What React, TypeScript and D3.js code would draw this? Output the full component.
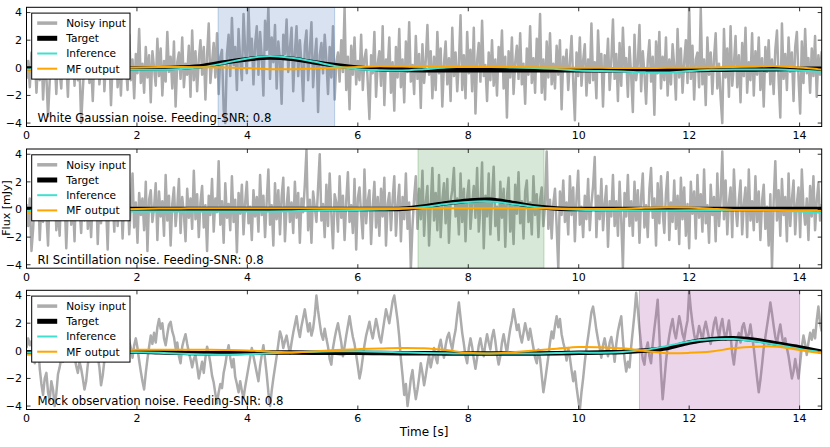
import React from 'react';
import * as d3 from 'd3';

const DT = 0.03;
const SMOOTH_DT = 0.4;
const X_DOMAIN = [0, 14.4];
const Y_DOMAIN = [-4.25, 4.38];
const X_TICKS = [0, 2, 4, 6, 8, 10, 12, 14];
const Y_TICKS = [-4, -2, 0, 2, 4];
const LEGEND_LABELS = ['Noisy input', 'Target', 'Inference', 'MF output'];
const PANEL_TITLES = [
  'White Gaussian noise. Feeding-SNR: 0.8',
  'RI Scintillation noise. Feeding-SNR: 0.8',
  'Mock observation noise. Feeding-SNR: 0.8',
];
const SPAN_1 = [3.47, 5.58];
const SPAN_2 = [7.09, 9.37];
const SPAN_3 = [11.1, 14.0];

const NOISE_WHITE = [
  -0.8, 0.5, -1.4, 1.1, -0.2, 0.9, -1.8, 0.3, -0.9, 1.6, -2.3, 0.2, -0.6, -3.5, -1.0, 1.3, -0.4, 0.7, -1.9, 1.0,
  -0.3, -1.5, 1.8, -0.7, 0.4, -2.1, 1.2, -0.5, 0.8, -1.3, 2.0, -0.9, 0.1, -4.0, -1.6, 0.6, -0.2, 1.5, -1.1, 0.3,
  -2.4, 0.9, -0.6, 1.7, -1.2, 0.2, 2.3, -1.7, 0.5, -0.8, 1.1, -2.7, 0.4, -0.3, 1.9, -1.4, 0.7, -2.0, 1.3, -0.5,
  0.2, -1.6, 2.4, -0.9, 0.6, -2.2, 1.0, -0.4, 2.8, -1.1, 0.3, -1.8, 1.5, -0.7, 0.9, -2.5, 1.2, 0.0, -1.3, 2.1,
  -0.6, 1.4, -2.0, 0.5, -1.0, 2.6, -0.3, 0.8, -1.5, 1.9, -2.8, 0.4, 1.1, -0.8, 2.2, -1.4, 0.3, -0.5, 1.6, -2.1,
  2.7, -0.9, 1.2, -1.7, 0.6, 2.0, -0.5, 1.5, -2.3, 0.9, 3.2, -1.1, 0.4, 1.8, -0.7, 2.5, -1.9, 0.8, 1.3, -3.0,
  -4.0, 1.0, 2.4, -0.6, 3.6, 0.2, 1.5, -1.6, 2.8, 0.5, -0.9, 3.9, 1.2, -0.4, 4.4, 0.8, 2.1, -1.2, 1.7, 3.0,
  -0.5, 2.6, 0.9, -2.0, 3.4, 1.3, 4.4, -0.8, 2.2, 0.4, 3.1, -1.5, 1.9, 0.6, -2.6, 2.4, 1.0, 3.5, -0.3, 1.4,
  2.9, -1.7, 1.1, 3.0, -0.6, 2.0, 0.3, -2.4, 1.6, 2.7, -0.9, 1.2, 3.3, -1.4, 0.7, 2.1, -3.2, 0.9, 1.8, -0.4,
  2.4, 0.6, -1.9, 1.5, -0.7, 3.0, -2.3, 0.4, 1.1, -1.0, 2.0, -0.3, 4.4, -1.6, 0.8, -3.0, 1.6, -0.5, 2.2, -1.2,
  0.5, -0.9, 2.4, -1.6, 0.7, 1.3, -1.1, -3.7, 0.9, -0.4, 2.6, -2.1, 0.3, 1.2, -1.3, 3.0, -2.7, 0.6, -0.2, 2.2,
  -1.8, 0.4, -3.1, 1.5, -0.7, 2.8, -1.4, 0.6, -2.5, 1.9, -0.3, 3.3, -1.0, 0.2, -1.9, 2.3, -0.8, 1.0, -2.9, 1.7,
  -1.1, 0.5, 3.1, -0.5, 1.2, -2.2, 0.8, -1.6, 2.6, -0.4, 1.4, -2.8, 0.3, 1.9, -1.2, 0.7, -2.4, 2.9, -0.6, 1.1,
  -1.7, 0.4, 3.8, -1.6, 0.9, -2.2, 2.6, -0.4, 1.3, -1.7, 2.9, -3.3, 0.5, 1.8, -1.0, 3.4, -0.6, 0.2, -2.4, 1.1,
  -0.9, 2.0, -1.3, 0.6, -2.0, 1.5, -0.2, 2.7, -1.5, 0.8, -3.6, 1.2, -0.7, 2.2, -1.9, 0.4, 1.6, -0.8, 2.5, -1.2,
  0.3, -2.6, 1.4, -0.5, 3.0, -1.1, 0.7, -1.8, 2.1, 0.0, 3.9, -1.8, 0.6, -2.3, 1.9, -0.7, 2.5, -1.2, 0.3, -1.5,
  1.6, -0.5, 2.0, -3.0, 0.8, -0.2, 1.3, -1.6, 0.4, 2.3, -1.0, -3.8, 1.1, -0.6, 2.2, -1.3, 0.5, 1.7, -2.0, 0.6,
  -1.1, 3.2, -0.9, 0.4, -2.2, 2.7, -0.3, 1.0, -2.8, 0.9, -0.3, 2.1, -1.6, 0.5, 3.5, -0.8, 1.0, -2.4, 1.8, -1.3,
  2.9, -0.2, 0.7, -2.1, 1.5, -0.6, -3.2, 2.4, -0.9, 0.3, 3.1, -1.7, 1.2, -0.4, -2.6, 0.5, 2.0, -1.0, 0.8, -3.4,
  1.9, -0.4, 2.6, -1.5, 0.8, -0.9, 2.2, -2.0, 0.6, -1.2, 1.7, 0.1, -2.3, 2.8, -0.7, 1.4, -1.8, 0.4, 2.0, -1.1,
  4.4, -0.8, 1.6, -2.3, 0.6, 1.1, -1.4, 4.3, -1.2, 0.6, -2.7, 2.2, -0.5, 1.1, -1.9, 0.7, 2.5, -1.5, 0.3, -2.2,
  -4.0, 2.8, -0.7, 1.4, -2.1, 3.0, -1.3, 0.2, 2.3, -1.4, 0.9, -2.5, 1.8, -0.6, 2.9, -1.8, 0.4, -0.9, 2.5, -2.0,
  1.2, -0.5, 2.2, -1.6, 0.7, -2.8, 1.5, -0.3, 2.0, -1.2, 0.6, -1.9, 1.3, 2.7, -0.8, -3.6, 3.2, -0.8, 1.0, -1.6,
  2.2, -0.3, 1.1, -2.4, 1.5, 2.6, -0.7, -3.3, 1.9, -1.1, 2.8, -0.4, 0.7, -1.8, 1.4, -0.6, 2.3, -2.1, 0.9, -0.5,
  1.2,
];

const NOISE_RI = [
  0.4, -1.2, 0.8, -3.0, -1.4, 1.1, -0.6, 1.7, -2.2, 0.5, -0.9, 1.9, -0.3, -2.6, 1.2, -0.7, 0.6, 2.0, -1.5, 0.2,
  -1.9, 1.4, -0.4, 0.9, -2.8, 0.3, 1.6, -1.1, 0.7, -2.3, 2.2, -0.5, 0.1, -1.7, 1.3, -0.8, 2.4, -1.4, 0.5, -2.0,
  1.0, -0.3, 1.8, -2.5, 0.6, -1.0, 2.1, -0.7, 0.4, -2.9, 1.5, -0.2, 0.9, -1.6, 2.3, -1.2, 0.2, 1.1, -2.1, 0.8,
  -0.6, 1.7, -1.8, 0.3, 2.6, -1.3, 0.5, -2.4, 1.2, -0.4, 0.8, -1.5, 2.0, -3.0, 0.7, 1.4, -0.9, 0.1, 1.9, -2.2,
  1.3, -0.5, 0.6, -1.9, 2.5, -0.8, 1.0, -2.6, 0.4, 1.6, -1.2, 0.2, 2.2, -1.7, 0.9, -0.3, -2.3, 1.5, -0.6, 0.8,
  -1.4, 2.8, -0.7, 1.1, -2.0, 0.5, 1.7, -1.3, 0.3, -3.0, 1.0, -0.4, 2.2, -1.6, 0.8, -0.2, 3.5, -1.1, 0.6, -2.4,
  1.9, -0.6, 0.4, -1.5, 2.4, -0.9, 0.7, -3.1, 1.2, -0.3, 1.8, -1.8, 0.5, 2.0, -1.0, 0.2, -2.2, 1.4, -0.5, 0.9,
  -1.6, 2.5, -0.4, 1.0, -2.0, 0.6, 2.9, -1.1, 0.3, -2.6, 1.9, -0.7, 1.4, -1.8, 0.9, 2.3, -2.3, 0.2, 1.6, -0.9,
  0.5, -1.7, 2.0, -0.6, 1.2, -2.4, 0.8, -0.2, 1.8, 4.3, -1.5, 0.7, -2.4, 1.3, 0.2, -0.9, 1.6, 4.0, -0.8, 0.4,
  -2.0, 1.8, -1.2, 2.6, -0.3, -2.8, 1.1, 0.5, -1.6, 2.4, -0.6, 1.0, -2.2, 0.6, 2.7, -0.9, 0.3, -1.7, 2.2, -2.9,
  0.8, 1.6, -0.4, -2.1, 2.9, -1.0, 0.6, 1.4, -2.5, 0.2, 2.0, -1.3, 0.9, -1.9, 1.5, -0.5, 2.3, -2.6, 0.4, 1.2,
  -1.5, 0.7, 2.4, -1.9, 0.3, 1.8, -2.3, 0.9, -0.7, 2.6, -1.4, 0.5, -4.3, -1.2, 0.9, 2.4, -1.4, 1.5, -0.7, 2.8,
  -1.9, 0.5, 1.7, -2.6, 0.3, 3.0, -0.8, 1.2, -1.5, 2.5, -2.0, 0.7, 1.9, -1.0, 2.2, -2.4, 0.6, 1.4, 3.0, -0.5,
  0.8, -1.8, 2.6, -0.9, 1.5, -2.3, 0.9, 2.1, -1.4, 0.4, 1.7, -0.6, 3.0, -1.6, 0.2, 3.4, -2.8, 1.0, -0.5, 2.6,
  -1.8, 0.8, 3.1, -1.2, 0.2, -2.2, 2.0, -0.6, 1.5, -2.7, 0.9, 2.3, -1.6, 0.4, -2.5, 1.8, -0.3, 2.7, -1.0, 0.6,
  -2.1, 1.3, 2.1, -0.9, 0.5, -1.8, 2.4, -0.4, 1.1, -2.0, 0.7, 1.6, -1.2, 0.3, 4.2, -1.4, 0.7, -2.1, 0.4, 1.5,
  -1.2, -4.3, 1.3, -0.4, 2.1, -0.9, 0.5, -1.8, 2.4, -0.4, 1.6, -2.3, 0.8, 2.8, -1.1, 0.2, -2.0, 1.0, -0.7, 2.2,
  -1.5, 0.4, 1.7, 3.8, -2.0, 1.0, -0.7, 2.2, -1.5, 0.4, 1.7, -2.7, 0.6, -0.5, 2.5, -1.2, 0.6, -1.9, 2.0, -0.8,
  -4.2, 1.2, -0.5, 2.5, -1.2, 0.6, -1.9, 2.0, -0.8, 1.4, -2.4, 0.9, 2.6, -1.3, 0.3, -2.0, 1.5, 3.0, -0.6, 0.8,
  -2.6, 1.9, -1.0, 2.4, -0.2, -1.7, 1.2, 2.7, -2.2, 0.5, -0.9, 2.1, -1.4, 1.0, -2.5, 2.3, -0.7, 1.6, -1.9, 0.4,
  -2.8, 2.0, -0.3, 1.3, -2.1, 2.5, -0.6, 1.1, -1.6, 2.9, -1.0, 0.3, -2.4, 1.8, -0.4, 0.9, -2.3, 2.6, -1.2, 0.7,
  4.2, -0.7, 2.1, -1.8, 0.5, 1.6, -2.0, 2.9, 0.2, -1.2, 0.7, 2.1, -1.8, 0.4, 1.6, -2.0, 2.9, -0.8, 0.6, -1.5,
  2.4, -0.9, 1.3, -2.2, 0.6, 1.8, -1.4, 0.2, -2.6, 1.1, -4.2, 0.6, 3.5, -0.8, 1.4, -1.9, 2.2, -0.4, 0.9, -2.3,
  2.6, -1.2, 0.7, 2.1, -1.8, 0.4, 1.6, -2.0, 2.9, 0.2, -1.1, 0.8, -2.2, 1.7, -0.5, 2.4, -1.5, 0.6, 1.9, -0.8,
  0.4,
];

const NOISE_MOCK = [
  0.2, 0.9, 0.4, 0.7, -0.2, -0.9, -0.4, 0.5, -1.3, -2.4, -3.2, -2.0, -1.6, -3.0, -3.6, -2.2, -2.8, -4.0, -3.1, -1.7,
  -1.2, -0.5, -0.8, 0.3, -0.2, -0.6, 0.5, 0.9, 0.1, -0.4, -1.1, -1.6, -0.8, -1.3, -2.0, -2.8, -2.2, -1.0, -0.4, 0.2,
  0.7, 1.3, 0.6, -0.4, -1.2, -2.5, -1.8, -0.7, 0.3, 0.9, 0.2, 0.7, 1.6, 1.1, 2.0, 1.4, 0.6, 0.9, 0.1, 0.4,
  1.5, 1.8, 0.7, 0.2, -0.5, 0.4, 0.9, 0.2, -0.7, -1.5, -2.2, -2.8, -1.6, -0.6, 0.3, 1.1, 0.5, 1.3, 0.6, 1.7,
  2.3, 1.6, 2.0, 0.9, 0.4, 1.2, 1.9, 2.1, 1.4, 1.0, 0.2, 0.6, -0.4, -0.9, 0.3, 0.8, 1.2, 0.5, -0.1, -0.6,
  -1.2, -0.6, -0.3, -1.1, -2.0, -1.4, -0.8, -1.6, -0.5, 0.3, -0.2, -0.9, -1.8, -2.3, -3.1, -3.8, -3.0, -2.4, -2.7, -1.6,
  -1.0, -0.2, 0.4, -0.5, -1.2, -0.6, -1.9, -2.4, -3.0, -2.2, -2.9, -3.4, -2.6, -1.9, -1.2, -0.5, 0.2, -0.4, -1.0, -1.6,
  -2.2, -1.1, -0.3, 0.4, -0.6, -1.7, -3.0, -4.0, -2.9, -2.0, -1.2, -0.4, 0.5, 1.4, 1.0, 0.2, 0.7, 1.1, 0.4, -0.2,
  0.6, 1.3, 1.9, 2.5, 1.6, 1.0, 1.8, 2.4, 3.0, 2.2, 1.4, 2.0, 1.1, 1.6, 2.6, 4.0, 2.9, 2.0, 1.2, 0.8,
  1.6, 0.9, 0.3, -0.6, -1.0, 0.2, 0.9, 1.5, 2.0, 1.3, 0.6, -0.4, 0.3, 1.1, 1.8, 2.5, 1.7, 1.0, 0.5, -0.3,
  -1.1, -2.0, -1.4, -0.5, 0.4, 1.1, 1.6, 2.1, 1.4, 0.9, 1.6, 2.3, 1.7, 1.0, 0.6, 1.4, 2.2, 3.0, 2.5, 2.0,
  2.8, 3.6, 4.0, 3.1, 2.2, 1.0, -0.6, -1.8, -3.2, -2.4, -4.0, -3.1, -2.0, -1.4, -2.6, -3.5, -2.8, -1.9, -0.9, -1.6,
  -2.5, -1.8, -1.0, -0.3, -1.2, -0.6, 0.2, -0.5, -0.9, 0.3, 0.8, 0.1, -0.5, 0.4, 1.0, 1.3, 0.6, 0.1, 0.9, 1.5,
  2.6, 3.5, 2.4, 1.3, 0.5, -0.4, -0.9, 0.2, 0.9, 0.3, -0.6, -1.3, -0.5, 0.4, 0.9, 0.2, -0.4, 0.5, 1.2, 0.6,
  0.1, 1.0, 1.5, 0.7, -0.3, -1.0, -0.4, 0.6, 1.2, 0.5, -0.2, 0.8, 1.6, 2.2, 3.0, 2.3, 1.5, 1.9, 1.1, 0.6,
  1.3, 2.0, 1.4, 0.8, 1.6, 0.9, 0.2, -0.5, -0.9, 0.1, -0.6, -1.8, -3.0, -2.2, -1.3, -0.4, 0.6, 1.4, 0.9, 1.8,
  2.5, 1.7, 2.3, 1.2, 0.6, 0.1, -0.7, 0.2, -0.5, -1.4, -2.2, -1.5, -2.6, -3.5, -4.3, -3.0, -2.0, -0.8, 0.2, 1.0,
  1.9, 2.8, 3.2, 2.4, 1.5, 0.8, 0.2, -0.5, 0.4, 0.9, 0.2, -0.4, 0.6, 1.0, 0.3, -0.8, 0.5, 1.4, 2.0, 2.5,
  0.8, -0.6, -1.5, -0.8, -1.2, 0.3, 1.5, 2.7, 4.2, 3.0, 1.6, 0.4, -0.6, -1.0, 0.1, 0.6, -0.4, -0.9, 0.5, 1.6,
  2.6, 3.7, 1.2, -1.5, -3.5, -2.2, -0.8, 0.3, 1.1, 1.8, 2.3, 1.4, 0.9, 1.7, 2.5, 1.9, 1.2, 0.8, 1.6, 2.2,
  4.3, 3.0, 2.0, 1.2, 0.6, 1.1, 1.8, 1.3, 0.7, 1.6, 2.1, 1.5, 0.9, 0.5, 1.2, 2.0, 2.4, 1.6, 1.0, 1.8,
  2.3, 1.4, 0.8, 1.5, 2.2, 1.1, -0.2, -1.0, 0.1, 0.9, 1.3, 0.6, 1.7, 2.0, 1.4, 0.8, 1.2, 1.9, 1.0, 0.2,
  -0.9, -2.0, -3.0, -2.1, -1.0, 0.2, 1.0, 1.8, 2.6, 3.5, 2.7, 1.8, 1.0, 0.5, 1.3, 1.9, 1.1, 0.4, 0.9, 0.2,
  -0.4, -1.2, -2.0, -1.5, -0.6, -1.3, -2.0, -0.9, 0.3, 1.1, 0.5, -0.3, 0.6, 1.3, 0.8, 1.5, 0.9, 2.2, 3.2, 2.0,
  1.4,
];

// smooth curves sampled every 0.4 s (0 .. 14.4)
const TARGET_1 = [-0.05, -0.05, -0.05, -0.05, -0.05, -0.05, -0.04, 0.02, 0.14, 0.4, 0.62, 0.74, 0.65, 0.4, 0.18, 0.0, -0.1, -0.15, -0.17, -0.17, -0.17, -0.17, -0.17, -0.17, -0.17, -0.17, -0.17, -0.17, -0.17, -0.17, -0.16, -0.15, -0.13, -0.12, -0.1, -0.08, -0.07];
const INFER_1 = [-0.1, -0.12, -0.14, -0.15, -0.15, -0.15, -0.14, -0.08, 0.05, 0.35, 0.68, 0.85, 0.72, 0.45, 0.12, -0.1, -0.17, -0.19, -0.1, 0.02, 0.07, 0.06, 0.02, -0.02, -0.08, -0.2, -0.24, -0.27, -0.33, -0.34, -0.24, -0.15, -0.12, -0.12, -0.13, -0.2, -0.29];
const MF_1 = [-0.25, -0.22, -0.15, -0.08, -0.02, 0.03, 0.05, 0.05, 0.04, 0.02, -0.02, -0.1, -0.1, -0.05, 0.0, 0.06, 0.12, 0.13, 0.12, 0.1, 0.07, 0.05, 0.05, 0.04, 0.02, 0.0, 0.0, -0.02, -0.02, 0.0, 0.0, 0.02, 0.06, 0.1, 0.12, 0.02, -0.12];

const TARGET_2 = [0.03, 0.03, 0.03, 0.03, 0.03, 0.03, 0.03, 0.03, 0.03, 0.03, 0.03, 0.03, 0.03, 0.03, 0.03, 0.03, 0.03, 0.06, 0.22, 0.46, 0.64, 0.7, 0.48, 0.22, 0.08, 0.04, 0.03, 0.03, 0.03, 0.03, 0.03, 0.03, 0.03, 0.03, 0.03, 0.03, 0.03];
const INFER_2 = [-0.05, -0.08, -0.1, -0.12, -0.14, -0.15, -0.15, -0.15, -0.15, -0.15, -0.15, -0.15, -0.12, -0.08, -0.05, -0.03, 0.0, 0.05, 0.18, 0.4, 0.55, 0.58, 0.4, 0.18, 0.05, -0.02, -0.05, -0.07, -0.08, -0.07, -0.06, -0.04, -0.03, -0.05, -0.08, -0.15, -0.24];
const MF_2 = [-0.2, -0.15, -0.08, -0.04, 0.0, 0.04, 0.07, 0.08, 0.09, 0.09, 0.09, 0.09, 0.09, 0.09, 0.09, 0.09, 0.09, 0.09, 0.09, 0.09, 0.09, 0.09, 0.09, 0.08, 0.07, 0.05, 0.03, 0.05, 0.12, 0.17, 0.14, 0.05, -0.03, -0.06, -0.06, -0.05, -0.05];

const TARGET_3 = [-0.12, -0.1, -0.08, -0.06, -0.05, -0.05, -0.1, -0.15, -0.17, -0.17, -0.14, -0.12, -0.13, -0.14, -0.15, -0.15, -0.16, -0.17, -0.18, -0.19, -0.2, -0.2, -0.2, -0.2, -0.18, -0.15, -0.12, -0.08, 0.02, 0.2, 0.6, 0.84, 0.91, 0.78, 0.52, 0.25, -0.06];
const INFER_3 = [-0.12, -0.1, -0.08, -0.08, -0.08, -0.1, -0.15, -0.22, -0.26, -0.29, -0.25, -0.18, -0.12, -0.07, -0.04, -0.03, -0.06, -0.12, -0.16, -0.18, -0.2, -0.2, -0.2, -0.2, -0.16, -0.13, -0.14, -0.08, 0.05, 0.35, 0.68, 0.83, 0.85, 0.67, 0.42, 0.14, -0.1];
const MF_3 = [-0.28, -0.2, -0.1, -0.02, 0.04, 0.07, 0.08, 0.08, 0.07, 0.06, 0.03, -0.05, -0.12, -0.05, 0.05, 0.12, 0.17, 0.2, 0.18, 0.05, -0.15, -0.2, -0.1, 0.03, 0.15, 0.27, 0.25, 0.18, -0.02, -0.17, -0.15, -0.05, 0.18, 0.3, 0.3, 0.05, -0.18];

const PANELS = [
  { noise: NOISE_WHITE, target: TARGET_1, infer: INFER_1, mf: MF_1, span: SPAN_1, spanColor: '#3d6fb6', spanOpacity: 0.2, title: PANEL_TITLES[0] },
  { noise: NOISE_RI, target: TARGET_2, infer: INFER_2, mf: MF_2, span: SPAN_2, spanColor: '#3a8a3a', spanOpacity: 0.2, title: PANEL_TITLES[1] },
  { noise: NOISE_MOCK, target: TARGET_3, infer: INFER_3, mf: MF_3, span: SPAN_3, spanColor: '#a040a0', spanOpacity: 0.22, title: PANEL_TITLES[2] },
];

const W = 830;
const H = 447;
const AX_LEFT = 26.5;
const AX_RIGHT = 821.7;
const PANEL_TOPS = [7.3, 149, 290.3];
const PANEL_H = 119.2;
const FONT = 'DejaVu Sans, sans-serif';

const COL_NOISE = '#acacac';
const COL_TARGET = '#000000';
const COL_INFER = '#40e0d0';
const COL_MF = '#ffa500';

function Panel({ p, idx }: { p: any; idx: number }) {
  const top = PANEL_TOPS[idx];
  const x = d3.scaleLinear().domain(X_DOMAIN).range([AX_LEFT, AX_RIGHT]);
  const y = d3.scaleLinear().domain(Y_DOMAIN).range([top + PANEL_H, top]);
  const noiseLine = d3.line<number>().x((_, i) => x(i * DT)).y((d) => y(d));
  const smoothLine = d3
    .line<number>()
    .x((_, i) => x(i * SMOOTH_DT))
    .y((d) => y(d))
    .curve(d3.curveCatmullRom.alpha(0.5));
  const clipId = `clip-${idx}`;
  const bottom = top + PANEL_H;
  const tickLen = 4;
  const legX = AX_LEFT + 5.2;
  const legY = top + 5.8;
  const legendSamples = [
    { color: COL_NOISE, w: 3.5 },
    { color: COL_TARGET, w: 5 },
    { color: COL_INFER, w: 2 },
    { color: COL_MF, w: 2 },
  ];
  return (
    <g>
      <defs>
        <clipPath id={clipId}>
          <rect x={AX_LEFT} y={top} width={AX_RIGHT - AX_LEFT} height={PANEL_H} />
        </clipPath>
      </defs>
      <g clipPath={`url(#${clipId})`}>
        <path d={noiseLine(p.noise) || ''} fill="none" stroke={COL_NOISE} strokeWidth={2.5} strokeLinejoin="round" />
        <rect
          x={x(p.span[0])}
          y={top}
          width={x(p.span[1]) - x(p.span[0])}
          height={PANEL_H}
          fill={p.spanColor}
          fillOpacity={p.spanOpacity}
          stroke={p.spanColor}
          strokeOpacity={p.spanOpacity + 0.1}
          strokeWidth={1}
        />
        <path d={smoothLine(p.target) || ''} fill="none" stroke={COL_TARGET} strokeWidth={4.5} />
        <path d={smoothLine(p.infer) || ''} fill="none" stroke={COL_INFER} strokeWidth={2} />
        <path d={smoothLine(p.mf) || ''} fill="none" stroke={COL_MF} strokeWidth={2} />
      </g>
      <rect x={AX_LEFT} y={top} width={AX_RIGHT - AX_LEFT} height={PANEL_H} fill="none" stroke="#000" strokeWidth={1} />
      {X_TICKS.map((t) => (
        <g key={`xt${t}`}>
          <line x1={x(t)} x2={x(t)} y1={bottom} y2={bottom - tickLen} stroke="#000" strokeWidth={0.8} />
          <line x1={x(t)} x2={x(t)} y1={top} y2={top + tickLen} stroke="#000" strokeWidth={0.8} />
          <text x={x(t)} y={bottom + 12.5} textAnchor="middle" fontSize={11} fontFamily={FONT}>
            {t}
          </text>
        </g>
      ))}
      {Y_TICKS.map((t) => (
        <g key={`yt${t}`}>
          <line x1={AX_LEFT} x2={AX_LEFT + tickLen} y1={y(t)} y2={y(t)} stroke="#000" strokeWidth={0.8} />
          <line x1={AX_RIGHT} x2={AX_RIGHT - tickLen} y1={y(t)} y2={y(t)} stroke="#000" strokeWidth={0.8} />
          <text x={AX_LEFT - 4.5} y={y(t) + 3.9} textAnchor="end" fontSize={11} fontFamily={FONT}>
            {t < 0 ? `\u2212${Math.abs(t)}` : `${t}`}
          </text>
        </g>
      ))}
      <rect x={legX} y={legY} width={98.3} height={66} fill="#fff" stroke="#000" strokeWidth={1} />
      {LEGEND_LABELS.map((lab, i) => {
        const cy = legY + 10 + i * 15.2;
        return (
          <g key={lab}>
            <line x1={legX + 5.5} x2={legX + 25.5} y1={cy} y2={cy} stroke={legendSamples[i].color} strokeWidth={legendSamples[i].w} />
            <text x={legX + 34.5} y={cy + 3.8} fontSize={10.6} fontFamily={FONT}>
              {lab}
            </text>
          </g>
        );
      })}
      <text x={AX_LEFT + 11} y={top + 114.5} fontSize={11.7} fontFamily={FONT}>
        {p.title}
      </text>
    </g>
  );
}

export default function App() {
  return (
    <svg
      width={W}
      height={H}
      viewBox={`0 0 ${W} ${H}`}
      style={{ position: 'absolute', left: 0, top: 0, background: '#fff' }}
    >
      <rect x={0} y={0} width={W} height={H} fill="#fff" />
      {PANELS.map((p, i) => (
        <Panel key={i} p={p} idx={i} />
      ))}
      <text
        transform={`translate(9.5, 208) rotate(-90)`}
        textAnchor="middle"
        fontSize={11}
        fontFamily={FONT}
      >
        Flux [mJy]
      </text>
      <text x={(AX_LEFT + AX_RIGHT) / 2} y={436} textAnchor="middle" fontSize={12} fontFamily={FONT}>
        Time [s]
      </text>
    </svg>
  );
}
